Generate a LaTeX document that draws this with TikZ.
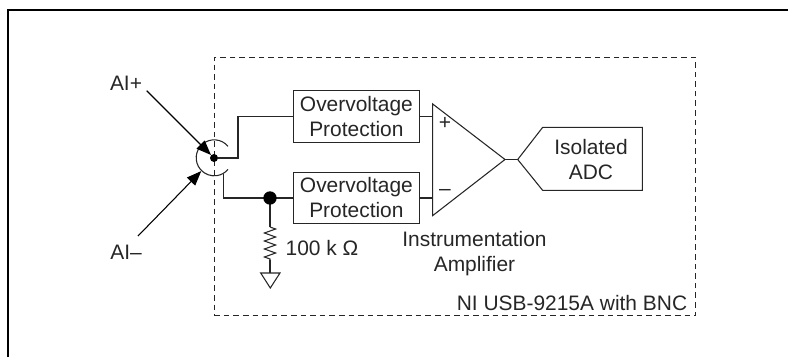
\documentclass[tikz,border=0pt]{standalone}
\usepackage{fontspec}
\setmainfont{Liberation Sans}
\usetikzlibrary{arrows.meta,decorations.pathmorphing}
\begin{document}
\begin{tikzpicture}
[x=0.75pt,y=-0.75pt,%
  lineDecorate/.style={-,line width=0.8pt,draw=black!85},
  frameDecorate/.style={-,line width=1.6pt},
  pointerDecorate/.style={-{Triangle[length=11pt,width=8.5pt]},line width=0.8pt},
  labelDecorate/.style={inner sep=0pt,align=center,text=black!85,font=\fontsize{15.7}{18.75}\selectfont},
  boxDecorate/.style={labelDecorate,shape=rectangle,draw=black!85,line width=0.8pt,minimum width=94.5pt,minimum height=38.7pt},
  dotDecorate/.style={shape=circle,fill=black,inner sep=0pt}]
\useasboundingbox (0,0) rectangle (788,357);
%% outer frame
\coordinate (frameLow) at (8,357);
\coordinate (frameCorner) at (8,10);
\coordinate (frameEnd) at (788,10);
\draw[frameDecorate] (frameLow) -- (frameCorner) -- (frameEnd);
%% device outline
\node (usbBox) at (454.8,186.5) [draw=black!85,dashed,dash pattern=on 4.2pt off 3pt,line width=0.6pt,
  minimum width=361pt,minimum height=194pt,inner sep=0pt] {};
%% blocks
\foreach \nodename/\y in {ovpA/116.5, ovpB/198}
{
  \node (\nodename) at (356.4,\y) [boxDecorate] {Overvoltage\\Protection};
}
%% connector
\node (bnc) at (214,158) [shape=circle,minimum size=27pt,inner sep=0pt] {};
\node (bncDot) at (214,158) [dotDecorate,minimum size=6pt] {};
\draw[lineDecorate] (bnc.40) arc[start angle=40,end angle=320,radius=13.5pt];
%% labels
\foreach \nodename/\x/\y/\txt in {
  aiPlus/126/83/{AI+}, aiMinus/126/252/{AI--}, resValue/322/248/{100 k Ω},
  isoText/591/160/{Isolated\\ADC}, ampText/474.5/254/{Instrumentation\\Amplifier},
  usbText/572/303/{NI USB-9215A with BNC}, ampPlus/445/123/{+}, ampMinus/445/192/{--}}
{
  \node (\nodename) at (\x,\y) [labelDecorate] {\txt};
}
%% amplifier and converter outlines
\foreach \nodename/\x/\y in {
  ampTop/432.7/104, ampLow/432.7/215.6, ampOut/505/159.5,
  adcIn/517.7/159.5, adcA/542.7/127.3, adcB/642.3/127.3, adcC/642.3/190.4, adcD/542.7/190.4,
  arrowA/146.7/90.7, arrowB/138/236,
  bendA/238/158, junc/270/198, resTop/270/227, resLow/270/260, gndTop/270/273,
  gndLeft/260.7/273, gndRight/280/273, gndTip/270.3/288}
{
  \coordinate (\nodename) at (\x,\y);
}
\draw[lineDecorate] (ampTop) -- (ampOut) -- (ampLow) -- cycle;
\draw[lineDecorate] (adcIn) -- (adcA) -- (adcB) -- (adcC) -- (adcD) -- cycle;
\draw[lineDecorate] (gndLeft) -- (gndRight) -- (gndTip) -- cycle;
%% pointers
\draw[pointerDecorate] (arrowA) -- (bncDot);
\draw[pointerDecorate] (arrowB) -- (bnc);
%% wires
\draw[lineDecorate] (bncDot) -- (bendA) |- (ovpA.west);
\draw[lineDecorate] (bnc.300) |- (junc) -- (ovpB.west);
\path
\foreach \startnode/\endnode in {
  ovpA.east/ampTop|-ovpA.east, ovpB.east/ampTop|-ovpB.east, ampOut/adcIn, junc/resTop, resLow/gndTop}
{
  (\startnode) edge[lineDecorate] (\endnode)
};
\draw[lineDecorate,decorate,decoration={zigzag,segment length=6pt,amplitude=4.2pt}] (resTop) -- (resLow);
\node (juncDot) at (junc) [dotDecorate,minimum size=10pt] {};
\end{tikzpicture}
\end{document}
